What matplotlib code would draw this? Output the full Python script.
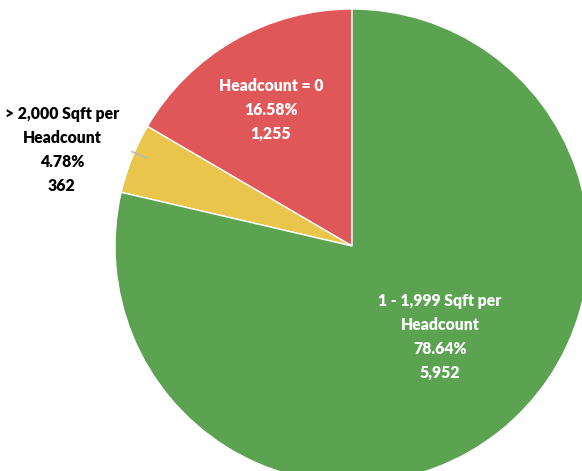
import numpy as np
import matplotlib.pyplot as plt

# slice data (counterclockwise from 12 o'clock: red, yellow, green)
categories = ['Headcount = 0', '> 2,000 Sqft per\nHeadcount', '1 - 1,999 Sqft per\nHeadcount']
counts = [1255, 362, 5952]
pcts = ['16.58%', '4.78%', '78.64%']
colors = ['#E0575A', '#E9C64B', '#5BA251']
text_colors = ['white', 'black', 'white']

W, H = 582, 471
cx, cy, R = 352, 246, 237  # pie centre and radius in pixels

fig = plt.figure(figsize=(W / 100, H / 100), dpi=100)
ax = fig.add_axes([0, 0, 1, 1])

wedges, _ = ax.pie(counts, colors=colors, startangle=90, counterclock=True,
                   radius=1, wedgeprops=dict(edgecolor='white', linewidth=1))

ax.set_aspect('auto')
ax.set_xlim(-cx / R, (W - cx) / R)
ax.set_ylim(-(H - cy) / R, cy / R)
ax.axis('off')

# label positions (data units)
label_pos = [(-0.342, 0.574), (-1.224, 0.405), (0.371, -0.384)]
for cat, pct, n, pos, tc in zip(categories, pcts, counts, label_pos, text_colors):
    ax.text(pos[0], pos[1], f'{cat}\n{pct}\n{n:,}', ha='center', va='center',
            color=tc, fontsize=11.3, fontweight='heavy', family='Lato',
            linespacing=1.6)

# leader line for the small slice
w = wedges[1]
mid = np.deg2rad((w.theta1 + w.theta2) / 2 - 1.5)
ax.plot([1.01 * np.cos(mid), 0.94 * np.cos(mid)],
        [1.01 * np.sin(mid), 0.94 * np.sin(mid)], color='#BDBDBD', lw=1.2)

fig.savefig('out.png', dpi=100)
